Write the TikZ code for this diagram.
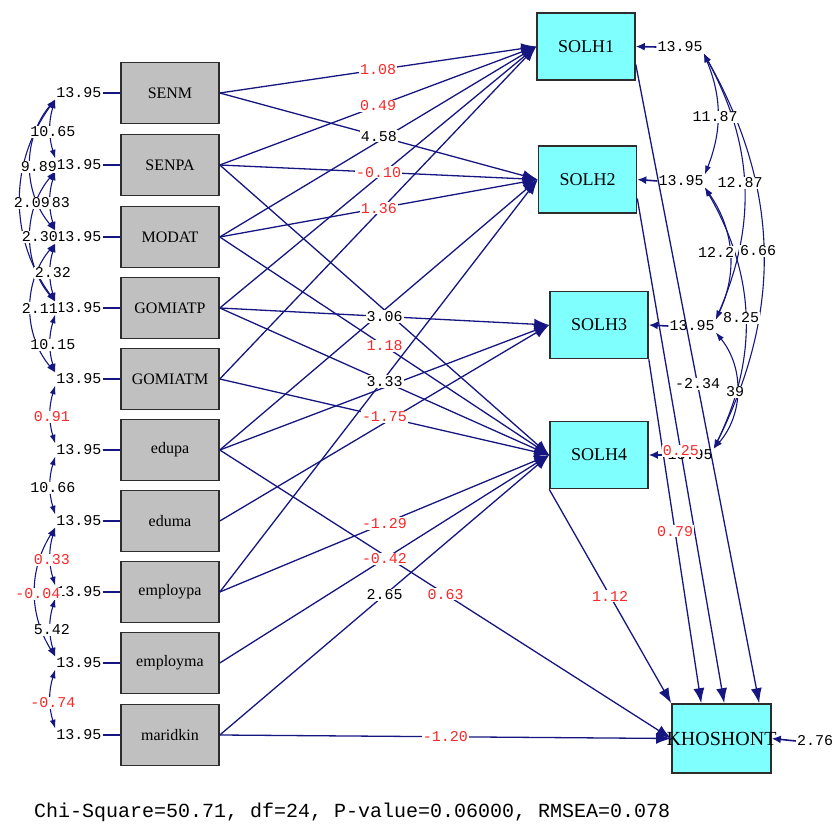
\documentclass[tikz,border=0pt]{standalone}
\usepackage{fontspec}
\setmainfont{Liberation Serif}
\newfontfamily\monofam{Liberation Mono}
\usetikzlibrary{arrows.meta}
\definecolor{navy}{RGB}{22,22,128}
\definecolor{labred}{RGB}{250,40,40}
\definecolor{boxgray}{RGB}{192,192,192}
\definecolor{boxline}{RGB}{45,45,45}
\definecolor{cyanfill}{RGB}{128,255,255}
\tikzset{
  xbox/.style={draw=boxline, fill=boxgray, line width=1.6pt, minimum width=98pt, minimum height=61pt, inner sep=0pt, font=\fontsize{16}{16}\selectfont},
  ybox/.style={draw=boxline, fill=cyanfill, line width=1.6pt, minimum width=98pt, minimum height=67pt, inner sep=0pt, font=\fontsize{18}{18}\selectfont},
  conn/.style={draw=navy, line width=1.3pt, -{Latex[length=15pt,width=11pt]}},
  lab/.style={font=\monofam\fontsize{15}{15}\selectfont, fill=white, inner sep=1pt, text=black},
  rlab/.style={lab, text=labred},
  vlab/.style={font=\monofam\fontsize{15}{15}\selectfont, inner sep=1pt, text=black},
  cov/.style={draw=navy, line width=1.1pt, {Latex[length=9pt,width=6pt]}-{Latex[length=9pt,width=6pt]}},
  errln/.style={draw=navy, line width=1.6pt},
  errarr/.style={draw=navy, line width=1.6pt, -{Latex[length=9pt,width=8pt]}},
}
\begin{document}
\begin{tikzpicture}[x=1pt,y=-1pt]
\useasboundingbox (0,0) rectangle (836,826);
\fill[white] (0,0) rectangle (836,826);

% ---- exogenous boxes
\node[xbox] (SENM) at (170,93) {SENM};
\node[xbox] (SENPA) at (170,165) {SENPA};
\node[xbox] (MODAT) at (170,237) {MODAT};
\node[xbox] (GOMIATP) at (170,308) {GOMIATP};
\node[xbox] (GOMIATM) at (170,379) {GOMIATM};
\node[xbox] (edupa) at (170,450) {edupa};
\node[xbox] (eduma) at (170,521) {eduma};
\node[xbox] (employpa) at (170,592) {employpa};
\node[xbox] (employma) at (170,663) {employma};
\node[xbox] (maridkin) at (170,735) {maridkin};

% ---- endogenous boxes
\node[ybox] (S1) at (586,46.5) {SOLH1};
\node[ybox] (S2) at (587.5,179.5) {SOLH2};
\node[ybox] (S3) at (599,325) {SOLH3};
\node[ybox] (S4) at (599,455) {SOLH4};
\node[ybox, minimum width=99pt, minimum height=69pt, font=\fontsize{20}{20}\selectfont] (KH) at (721.5,738.5) {\makebox[0pt][c]{KHOSHONT}};

% ---- paths
\draw[conn] (SENM.east) -- (S1.west);
\draw[conn] (SENM.east) -- (S2.west);
\draw[conn] (SENPA.east) -- (S1.west);
\draw[conn] (SENPA.east) -- (S2.west);
\draw[conn] (SENPA.east) -- (S4.west);
\draw[conn] (MODAT.east) -- (S1.west);
\draw[conn] (MODAT.east) -- (S2.west);
\draw[conn] (MODAT.east) -- (S4.west);
\draw[conn] (GOMIATP.east) -- (S1.west);
\draw[conn] (GOMIATP.east) -- (S3.west);
\draw[conn] (GOMIATP.east) -- (S4.west);
\draw[conn] (GOMIATM.east) -- (S1.west);
\draw[conn] (GOMIATM.east) -- (S4.west);
\draw[conn] (edupa.east) -- (S2.west);
\draw[conn] (edupa.east) -- (S3.west);
\draw[conn] (edupa.east) -- (KH.west);
\draw[conn] (eduma.east) -- (S3.west);
\draw[conn] (employpa.east) -- (S2.west);
\draw[conn] (employpa.east) -- (S4.west);
\draw[conn] (employma.east) -- (S4.west);
\draw[conn] (maridkin.east) -- (S4.west);
\draw[conn] (maridkin.east) -- (KH.west);
\draw[conn] ([yshift=-18pt]S1.east) -- ([xshift=88pt]KH.north west);
\draw[conn] ([yshift=-19pt]S2.east) -- ([xshift=53pt]KH.north west);
\draw[conn] (S3.south east) -- ([xshift=30pt]KH.north west);
\draw[conn] (S4.south west) -- (KH.north west);

% ---- path labels
\path (SENM.east) -- (S1.west) node[rlab,pos=.5] (l1) {1.08};
\path (SENPA.east) -- (S1.west) node[rlab,pos=.5] (l2) {0.49};
\path (SENM.east) -- (S2.west) node[lab,pos=.5] (l3) {4.58};
\path (SENPA.east) -- (S2.west) node[rlab,pos=.5] (l4) {-0.10};
\path (MODAT.east) -- (S2.west) node[rlab,pos=.5] (l5) {1.36};
\path (GOMIATP.east) -- (S3.west) node[lab,pos=.5] (l6) {3.06};
\path (MODAT.east) -- (S4.west) node[rlab,pos=.5] (l7) {1.18};
\path (GOMIATP.east) -- (S4.west) node[lab,pos=.5] (l8) {3.33};
\path (GOMIATM.east) -- (S4.west) node[rlab,pos=.5] (l9) {-1.75};
\path (employpa.east) -- (S4.west) node[rlab,pos=.5] (l10) {-1.29};
\path (employma.east) -- (S4.west) node[rlab,pos=.5] (l11) {-0.42};
\path (maridkin.east) -- (S4.west) node[lab,pos=.5] (l12) {2.65};
\path (edupa.east) -- (KH.west) node[rlab,pos=.5] (l13) {0.63};
\path (maridkin.east) -- (KH.west) node[rlab,pos=.5] (l14) {-1.20};
\path (S4.south west) -- (KH.north west) node[rlab,pos=.5] (l15) {1.12};
\path (S3.south east) -- ([xshift=30pt]KH.north west) node[rlab,pos=.5] (l16) {0.79};

% ---- left variances
\foreach \v/\y in {SENM/93,SENPA/165,MODAT/237,GOMIATP/308,GOMIATM/379,edupa/450,eduma/521,employpa/592,employma/663,maridkin/735}{
  \node[vlab] (v\v) at (79,\y) {13.95};
  \draw[errln] (v\v.east) -- (\v.west);
}

% ---- left covariances
\draw[cov] (vSENM.south west) to[bend right=17] (vSENPA.north west);
\draw[cov] (vSENM.south west) to[bend right=40] (vMODAT.north west);
\draw[cov] (vSENM.south west) to[bend right=36] (vGOMIATP.north west);
\draw[cov] (vSENPA.south west) to[bend right=17] (vMODAT.north west);
\draw[cov] (vSENPA.south west) to[bend right=40] (vGOMIATP.north west);
\draw[cov] (vMODAT.south west) to[bend right=17] (vGOMIATP.north west);
\draw[cov] (vMODAT.south west) to[bend right=40] (vGOMIATM.north west);
\draw[cov] (vGOMIATP.south west) to[bend right=17] (vGOMIATM.north west);
\draw[cov] (vGOMIATM.south west) to[bend right=17] (vedupa.north west);
\draw[cov] (vedupa.south west) to[bend right=17] (veduma.north west);
\draw[cov] (veduma.south west) to[bend right=17] (vemploypa.north west);
\draw[cov] (veduma.south west) to[bend right=32] (vemployma.north west);
\draw[cov] (vemploypa.south west) to[bend right=17] (vemployma.north west);
\draw[cov] (vemployma.south west) to[bend right=17] (vmaridkin.north west);

\node[lab] (c1) at (53,132) {10.65};
\node[lab] (c2) at (39,167) {9.89};
\node[lab] (c4) at (61,203) {83};
\node[lab] (c3) at (32,203) {2.09};
\node[lab] (c5) at (40,237) {2.30};
\node[lab] (c6) at (53,273) {2.32};
\node[lab] (c7) at (40,308) {2.11};
\node[lab] (c8) at (53,345) {10.15};
\node[rlab] (c9) at (52,417) {0.91};
\node[lab] (c10) at (53,488) {10.66};
\node[rlab] (c11) at (52,560) {0.33};
\node[rlab] (c12) at (38,594) {-0.04};
\node[lab] (c13) at (52,630) {5.42};
\node[rlab] (c14) at (53,703) {-0.74};

% ---- right variances
\node[vlab] (vS1) at (680,47) {13.95};
\node[vlab] (vS2) at (681,181) {13.95};
\node[vlab] (vS3) at (692,326) {13.95};
\node[vlab] (vS4) at (690,455) {13.95};
\node[vlab] (vKH) at (815,741) {2.76};
\draw[errarr] (vS1.west) -- (S1.east);
\draw[errarr] (vS2.west) -- (S2.east);
\draw[errarr] (vS3.west) -- (S3.east);
\draw[errarr] (vS4.west) -- (S4.east);
\draw[errarr] (vKH.west) -- (KH.east);

% ---- right covariances
\draw[cov] (vS1.south east) to[bend left=22] (vS2.north east);
\draw[cov] (vS1.south east) to[bend left=26] (vS3.north east);
\draw[cov] (vS1.south east) to[bend left=28] (vS4.north east);
\draw[cov] (vS2.south east) to[bend left=30] (vS3.north east);
\draw[cov] (vS2.south east) to[bend left=28] (vS4.north east);
\draw[cov] (vS3.south east) to[bend left=40] (vS4.north east);

\node[lab] (d1) at (715,117) {11.87};
\node[lab] (d2) at (740,183) {12.87};
\node[lab] (d4) at (716,252) {12.2};
\node[lab] (d3) at (758,251) {6.66};
\node[lab] (d5) at (741,318) {8.25};
\node[lab] (d6) at (735,392) {39};

% labels of the SOLH -> KHOSHONT paths drawn last
\path ([yshift=-18pt]S1.east) -- ([xshift=88pt]KH.north west) node[lab,pos=.5] (l17) {-2.34};
\path ([yshift=-19pt]S2.east) -- ([xshift=53pt]KH.north west) node[rlab,pos=.5] (l18) {0.25};

% ---- fit statistics
\node[anchor=west, font=\monofam\fontsize{20}{20}\selectfont, inner sep=0pt] (fit) at (34,812) {Chi-Square=50.71, df=24, P-value=0.06000, RMSEA=0.078};
\end{tikzpicture}
\end{document}
